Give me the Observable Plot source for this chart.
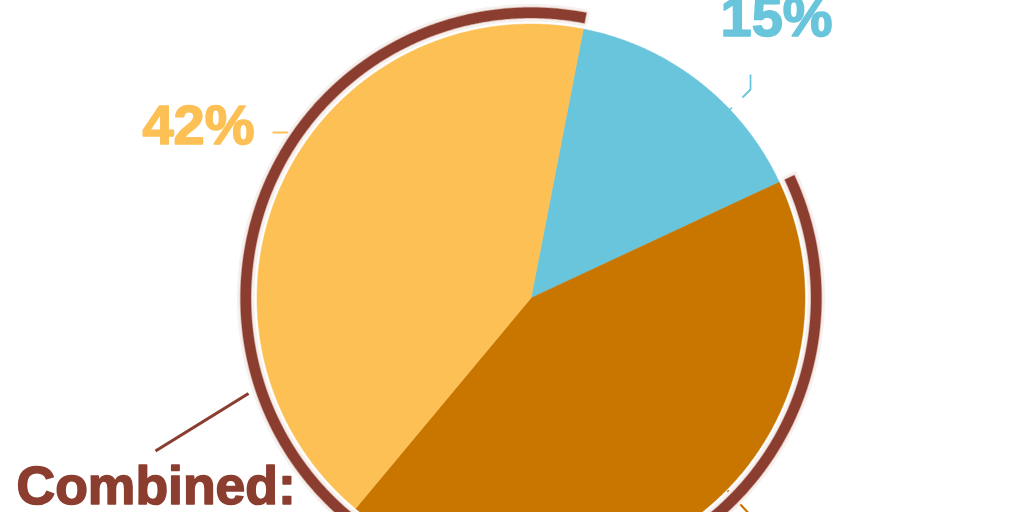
<!DOCTYPE html>
<html><head><meta charset="utf-8">
<script src="https://cdn.jsdelivr.net/npm/d3@7"></script>
<script src="https://cdn.jsdelivr.net/npm/@observablehq/plot@0.6"></script>
<style>html,body{margin:0;padding:0;background:#fff;overflow:hidden}#chart svg{display:block}</style>
</head><body><div id="chart"></div>
<script>
// ---- data ----
const categories = ["Segment A", "Segment B", "Segment C"];
const values = [15, 43, 42];
const valueLabels = ["15%", "43%", "42%"];
const combinedLabel = "Combined:";
const combinedMembers = [1, 2];

// ---- styles / layout ----
const colors = ["#69c5db", "#c87600", "#fcc055"];
const brown = "#8b3e2f";
const W = 1024, H = 512;
const cx = 530.5, cy = 297.5, R = 274, ringIn = 280, ringOut = 290.5;
const startDeg = 11;
const font = "Liberation Sans, Arial, Helvetica, sans-serif";

const total = d3.sum(values);
let acc = startDeg;
const slices = values.map((v, i) => { const a0 = acc; acc += v / total * 360; return {i, a0, a1: acc}; });

const pt = (deg, r) => ({x: cx + r * Math.sin(deg * Math.PI / 180), y: cy - r * Math.cos(deg * Math.PI / 180)});
function arcPts(a0, a1, r) {
  const n = Math.max(2, Math.ceil((a1 - a0) / 0.4));
  return d3.range(n + 1).map(k => pt(a0 + (a1 - a0) * k / n, r));
}
const slicePoly = s => [{x: cx, y: cy}, ...arcPts(s.a0, s.a1, R), {x: cx, y: cy}];

const ringA0 = d3.min(combinedMembers, i => slices[i].a0);
const ringA1 = d3.max(combinedMembers, i => slices[i].a1);
const ringPoly = [...arcPts(ringA0, ringA1, ringOut), ...arcPts(ringA0, ringA1, ringIn).reverse()];
ringPoly.push(ringPoly[0]);

// leader lines (annotation layout, pixels)
const leaders = [
  {pts: [[729, 109.5], [731.5, 107]], color: colors[0], w: 1.6},
  {pts: [[742, 97], [750, 89], [750, 74]], color: colors[0], w: 1.8},
  {pts: [[272, 132], [287, 132], [300, 142]], color: colors[2], w: 2},
  {pts: [[727, 490], [752, 517]], color: colors[1], w: 2.2},
  {pts: [[155, 450.5], [248, 393]], color: brown, w: 3.2}
];

const texts = [
  {label: valueLabels[0], x: 720, y: 35, anchor: "start", color: colors[0], size: 56},
  {label: valueLabels[2], x: 254, y: 143, anchor: "end", color: colors[2], size: 56},
  {label: combinedLabel, x: 16, y: 503, anchor: "start", color: brown, size: 53.5}
];

const marks = [];
slices.forEach(s => marks.push(Plot.line(slicePoly(s), {x: "x", y: "y", fill: colors[s.i], stroke: colors[s.i], strokeWidth: 0.5, curve: "linear"})));
leaders.forEach(l => marks.push(Plot.line(l.pts, {x: d => d[0], y: d => d[1], stroke: l.color, strokeWidth: l.w, strokeLinecap: "butt", strokeLinejoin: "miter"})));
// ring: halo + fill
marks.push(Plot.line(ringPoly, {x: "x", y: "y", fill: "none", stroke: "#f6f1ee", strokeWidth: 7, strokeLinejoin: "miter"}));
marks.push(Plot.line(ringPoly, {x: "x", y: "y", fill: brown, stroke: "#d9b7ae", strokeWidth: 1.6, strokeLinejoin: "miter"}));
marks.push(Plot.line(ringPoly, {x: "x", y: "y", fill: brown, stroke: "none"}));
texts.forEach(t => marks.push(Plot.text([t], {x: "x", y: "y", text: "label", textAnchor: t.anchor, lineAnchor: "bottom", fill: t.color, stroke: t.color, strokeWidth: 1.6, fontSize: t.size, fontWeight: "bold", fontFamily: font})));

const chart = Plot.plot({
  width: W, height: H, margin: 0,
  x: {domain: [0, W], range: [0, W], axis: null},
  y: {domain: [0, H], range: [0, H], axis: null},
  style: {background: "#fff", overflow: "hidden"},
  marks
});
document.getElementById("chart").appendChild(chart);
</script>
</body></html>
